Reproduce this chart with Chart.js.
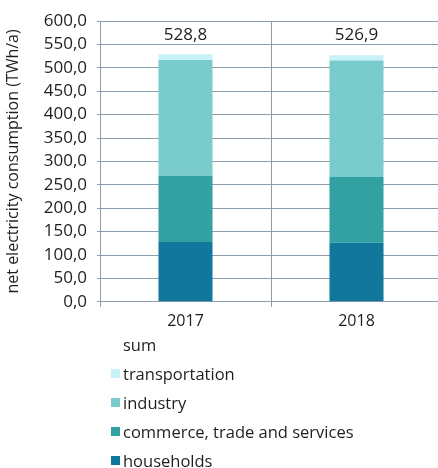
<!DOCTYPE html>
<html>
<head>
<meta charset="utf-8">
<script src="https://cdn.jsdelivr.net/npm/chart.js@4"></script>
<style>
  html, body { margin: 0; padding: 0; background: #fff; }
  body { width: 438px; height: 468px; overflow: hidden; font-family: "Open Sans", sans-serif; color: #1e1e1e; }
  #wrap { position: absolute; left: 0; top: 0; width: 438px; height: 336px; overflow: hidden; }
  #box { width: 442px; height: 336px; }
  #legend { position: absolute; left: 111px; top: 330px; font-size: 16.5px; }
  #legend .item { height: 29px; line-height: 22px; display: flex; align-items: center; }
  #legend .sw { width: 9px; height: 9px; margin-right: 3px; }
</style>
</head>
<body>
<div id="wrap"><div id="box"><canvas id="chart"></canvas></div></div>
<div id="legend"></div>
<script>
const years = ['2017', '2018'];
const households = [128.0, 126.0];
const commerce = [141.1, 140.9];
const industry = [247.7, 248.6];
const transportation = [12.0, 11.4];
const sums = [528.8, 526.9];

const seriesNames = ['households', 'commerce, trade and services', 'industry', 'transportation'];
const seriesColors = ['#11779c', '#33a1a1', '#7acccc', '#c8f2f8'];
const seriesData = [households, commerce, industry, transportation];

const fmt = v => v.toFixed(1).replace('.', ',');
const gridColor = '#8c9dad';

// sum labels above the stacks
const sumLabels = {
    id: 'sumLabels',
    afterDatasetsDraw(chart) {
        const c = chart.ctx;
        const x = chart.scales.x;
        c.save();
        c.font = '17px "Open Sans"';
        c.fillStyle = '#1e1e1e';
        c.textAlign = 'center';
        c.textBaseline = 'middle';
        sums.forEach((s, i) => {
            c.fillText(fmt(s), x.getPixelForValue(i), chart.chartArea.top + 14);
        });
        c.restore();
    }
};

new Chart(document.getElementById('chart'), {
    type: 'bar',
    data: {
        labels: years,
        datasets: seriesData.map((d, i) => ({
            label: seriesNames[i],
            data: d,
            backgroundColor: seriesColors[i],
            borderWidth: 0,
            categoryPercentage: 1,
            barPercentage: 0.316
        }))
    },
    options: {
        responsive: true,
        maintainAspectRatio: false,
        animation: false,
        layout: { padding: { top: 21, bottom: 0 } },
        plugins: { legend: { display: false }, tooltip: { enabled: false } },
        scales: {
            x: {
                stacked: true,
                grid: { color: gridColor, tickLength: 5, offset: true },
                border: { color: gridColor },
                ticks: { color: '#1e1e1e', font: { family: 'Open Sans', size: 16 }, padding: 5 }
            },
            y: {
                stacked: true,
                min: 0,
                max: 600,
                afterFit: s => { s.width = 100; },
                grid: { color: gridColor, tickLength: 3 },
                border: { color: gridColor },
                ticks: {
                    stepSize: 50,
                    autoSkip: false,
                    color: '#1e1e1e',
                    font: { family: 'Open Sans', size: 17 },
                    padding: 10,
                    callback: v => fmt(v)
                },
                title: {
                    display: true,
                    text: 'net electricity consumption (TWh/a)',
                    color: '#1e1e1e',
                    font: { family: 'Open Sans', size: 16 },
                    padding: { top: 4, bottom: 4 }
                }
            }
        }
    },
    plugins: [sumLabels]
});

// legend: sum first, then series in reverse order
const legend = document.getElementById('legend');
const rows = [{ name: 'sum', color: null }].concat(
    seriesNames.map((n, i) => ({ name: n, color: seriesColors[i] })).reverse()
);
rows.forEach(r => {
    const el = document.createElement('div');
    el.className = 'item';
    el.innerHTML = `<span class="sw" style="background:${r.color || 'transparent'}"></span><span>${r.name}</span>`;
    legend.appendChild(el);
});
</script>
</body>
</html>
